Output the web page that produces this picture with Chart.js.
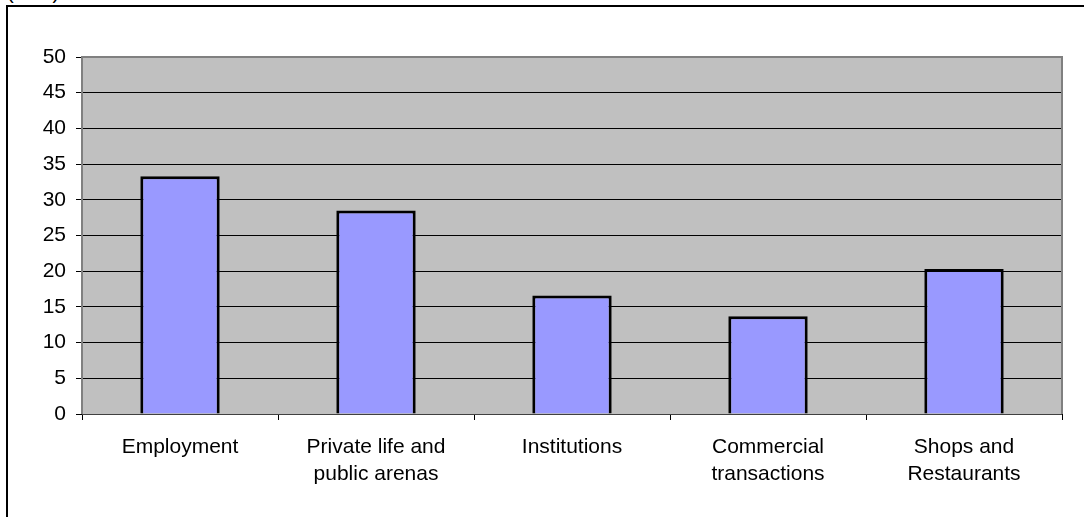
<!DOCTYPE html>
<html>
<head>
<meta charset="utf-8">
<script src="https://cdn.jsdelivr.net/npm/chart.js"></script>
<style>
  html, body { margin: 0; padding: 0; background: #fff; overflow: hidden; }
  #wrap { position: relative; width: 1084px; height: 517px; }
  #frame { position: absolute; left: 6px; top: 5px; width: 2000px; height: 2000px; border: 2px solid #000; }
  #unit { position: absolute; left: 7px; top: -19px; font: 20px Arial, "Liberation Sans", sans-serif; color: #000; }
  canvas { position: absolute; left: 0; top: 0; }
</style>
</head>
<body>
<div id="wrap">
  <div id="frame"></div>
  <div id="unit">(in %)</div>
  <canvas id="chart" width="1084" height="517"></canvas>
</div>
<script>
var categories = [
    ['Employment'],
    ['Private life and', 'public arenas'],
    ['Institutions'],
    ['Commercial', 'transactions'],
    ['Shops and', 'Restaurants']
];
var shares = [33.3, 28.5, 16.6, 13.7, 20.3];
var yTicks = [0, 5, 10, 15, 20, 25, 30, 35, 40, 45, 50];

var plotBackground = {
    id: 'plotBackground',
    beforeDraw: function (chart) {
        var a = chart.chartArea;
        var ctx = chart.ctx;
        ctx.save();
        ctx.fillStyle = '#c0c0c0';
        ctx.fillRect(a.left, a.top, a.right - a.left, a.bottom - a.top);
        ctx.restore();
    },
    afterDatasetsDraw: function (chart) {
        var a = chart.chartArea;
        var ctx = chart.ctx;
        ctx.save();
        ctx.strokeStyle = '#808080';
        ctx.lineWidth = 2;
        ctx.beginPath();
        ctx.moveTo(a.left, a.bottom);
        ctx.lineTo(a.left, a.top);
        ctx.lineTo(a.right, a.top);
        ctx.lineTo(a.right, a.bottom);
        ctx.stroke();
        ctx.strokeStyle = '#404040';
        ctx.lineWidth = 1;
        ctx.beginPath();
        ctx.moveTo(a.left, a.bottom + 0.5);
        ctx.lineTo(a.right, a.bottom + 0.5);
        ctx.stroke();
        ctx.restore();
    }
};

Chart.defaults.font.family = 'Arial, "Liberation Sans", sans-serif';
Chart.defaults.color = '#000';

new Chart(document.getElementById('chart'), {
    type: 'bar',
    data: {
        labels: categories,
        datasets: [
            {
                data: shares,
                backgroundColor: '#9999ff',
                borderColor: '#000',
                borderWidth: 3,
                barPercentage: 0.81,
                categoryPercentage: 0.5
            }
        ]
    },
    options: {
        responsive: false,
        animation: false,
        layout: { padding: { top: 57, right: 22, left: 0, bottom: 0 } },
        plugins: { legend: { display: false }, tooltip: { enabled: false } },
        scales: {
            x: {
                grid: { drawOnChartArea: false, color: '#000', tickLength: 6, offset: true },
                border: { display: false },
                ticks: { font: { size: 21, lineHeight: 1.29 }, padding: 14, maxRotation: 0, autoSkip: false },
                afterFit: function (s) { s.height = 103; }
            },
            y: {
                min: 0,
                max: 50,
                afterBuildTicks: function (s) { s.ticks = yTicks.map(function (v) { return { value: v }; }); },
                grid: { color: '#000', tickLength: 6 },
                border: { display: false },
                ticks: { font: { size: 21 }, padding: 10 },
                afterFit: function (s) { s.width = 82; }
            }
        }
    },
    plugins: [plotBackground]
});
</script>
</body>
</html>
